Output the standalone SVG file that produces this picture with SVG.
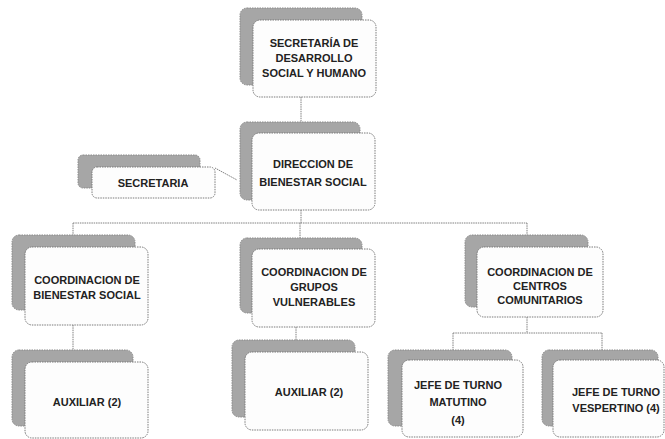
<svg xmlns="http://www.w3.org/2000/svg" width="665" height="439" viewBox="0 0 665 439">
<style>
.sh{fill:#a6a6a6;stroke:#8a8a8a;stroke-width:1;stroke-dasharray:1.5 1}
.fr{fill:#fdfdfd;stroke:#7a7a7a;stroke-width:1;stroke-dasharray:1.5 1}
.t{font-family:"Liberation Sans",Arial,sans-serif;font-weight:bold;font-size:11px;fill:#222;text-anchor:middle}
.c{fill:none;stroke:#808080;stroke-width:1;stroke-dasharray:1.5 0.8}
</style>
<rect width="665" height="439" fill="#ffffff"/>
<g id="connectors">
<path class="c" d="M301,97 V122"/>
<path class="c" d="M215,168 L237,180"/>
<path class="c" d="M301,210 V223 M73,223 H527 M73,223 V235 M300,223 V238 M527,223 V235"/>
<path class="c" d="M73,325 V350"/>
<path class="c" d="M296,327 V340"/>
<path class="c" d="M527,317 V333 M453,333 H602 M453,333 V350 M602,333 V350"/>
</g>
<g id="n1">
<rect class="sh" x="240" y="8" width="122" height="77" rx="7"/>
<rect class="fr" x="253" y="20" width="123" height="77" rx="7"/>
<text class="t" x="314" y="47">SECRETARÍA DE</text>
<text class="t" x="314" y="62">DESARROLLO</text>
<text class="t" x="314" y="77">SOCIAL Y HUMANO</text>
</g>
<g id="n2">
<rect class="sh" x="240" y="122" width="120" height="78" rx="7"/>
<rect class="fr" x="252" y="133" width="123" height="77" rx="7"/>
<text class="t" x="313" y="168">DIRECCION DE</text>
<text class="t" x="313" y="186">BIENESTAR SOCIAL</text>
</g>
<g id="n3">
<rect class="sh" x="78" y="155" width="122" height="33" rx="5"/>
<rect class="fr" x="92" y="167" width="123" height="31" rx="5"/>
<text class="t" x="153" y="187">SECRETARIA</text>
</g>
<g id="n4">
<rect class="sh" x="12" y="235" width="123" height="75" rx="7"/>
<rect class="fr" x="25" y="247" width="123" height="78" rx="7"/>
<text class="t" x="87" y="284">COORDINACION DE</text>
<text class="t" x="87" y="299">BIENESTAR SOCIAL</text>
</g>
<g id="n5">
<rect class="sh" x="240" y="238" width="122" height="75" rx="7"/>
<rect class="fr" x="252" y="249" width="123" height="78" rx="7"/>
<text class="t" x="314" y="276">COORDINACION DE</text>
<text class="t" x="314" y="291">GRUPOS</text>
<text class="t" x="314" y="306">VULNERABLES</text>
</g>
<g id="n6">
<rect class="sh" x="465" y="235" width="123" height="72" rx="7"/>
<rect class="fr" x="477" y="247" width="126" height="70" rx="7"/>
<text class="t" x="540" y="276">COORDINACION DE</text>
<text class="t" x="540" y="290">CENTROS</text>
<text class="t" x="540" y="304">COMUNITARIOS</text>
</g>
<g id="n7">
<rect class="sh" x="12" y="350" width="121" height="76" rx="7"/>
<rect class="fr" x="25" y="362" width="123" height="76" rx="7"/>
<text class="t" x="87" y="406">AUXILIAR (2)</text>
</g>
<g id="n8">
<rect class="sh" x="232" y="340" width="123" height="77" rx="7"/>
<rect class="fr" x="245" y="352" width="123" height="78" rx="7"/>
<text class="t" x="309" y="396">AUXILIAR (2)</text>
</g>
<g id="n9">
<rect class="sh" x="388" y="350" width="124" height="76" rx="7"/>
<rect class="fr" x="402" y="360" width="121" height="77" rx="7"/>
<text class="t" x="458" y="389">JEFE DE TURNO</text>
<text class="t" x="458" y="406">MATUTINO</text>
<text class="t" x="458" y="424">(4)</text>
</g>
<g id="n10">
<rect class="sh" x="542" y="350" width="116" height="76" rx="7"/>
<rect class="fr" x="553" y="360" width="111" height="77" rx="7"/>
<text class="t" x="616" y="396">JEFE DE TURNO</text>
<text class="t" x="616" y="412">VESPERTINO (4)</text>
</g>
</svg>
